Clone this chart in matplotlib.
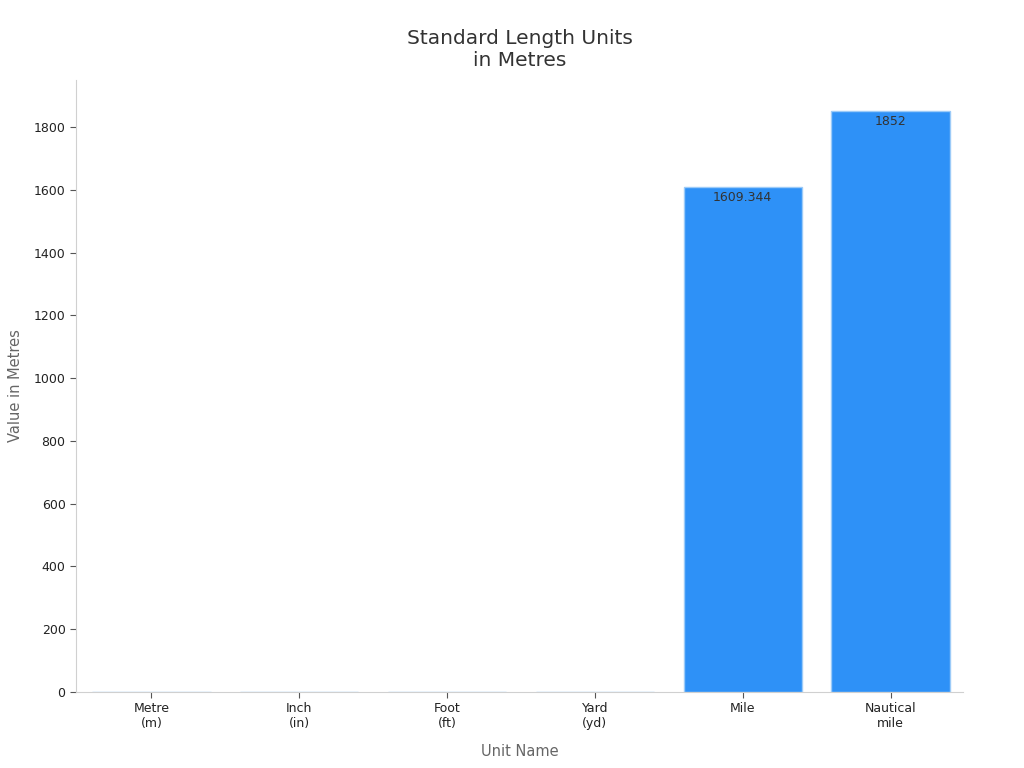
import matplotlib
matplotlib.use("Agg")
import matplotlib.pyplot as plt

# Data
units = ["Metre\n(m)", "Inch\n(in)", "Foot\n(ft)", "Yard\n(yd)", "Mile", "Nautical\nmile"]
metres = [1, 0.0254, 0.3048, 0.9144, 1609.344, 1852]
labels = ["", "", "", "", "1609.344", "1852"]

fig = plt.figure(figsize=(10.24, 7.68), dpi=100)
ax = fig.add_axes([0.0742, 0.099, 0.8662, 0.797])

bars = ax.bar(range(len(units)), metres, width=0.8, color="#2E91F7",
              edgecolor="#9CCBF8", linewidth=1)

for b, txt in zip(bars, labels):
    if txt:
        ax.annotate(txt, (b.get_x() + b.get_width() / 2, b.get_height()),
                    xytext=(0, -3), textcoords="offset points",
                    ha="center", va="top", fontsize=9, color="#333333")

ax.set_xlim(-0.51, 5.49)
ax.set_ylim(0, 1950)
ax.set_yticks(range(0, 1801, 200))
ax.set_xticks(range(len(units)))
ax.set_xticklabels(units, fontsize=9, color="#222222")
ax.tick_params(axis="y", labelsize=9, labelcolor="#222222", color="#555555", length=4)
ax.tick_params(axis="x", color="#555555", length=4)

for s in ["top", "right"]:
    ax.spines[s].set_visible(False)
for s in ["left", "bottom"]:
    ax.spines[s].set_color("#d0d0d0")

ax.set_xlabel("Unit Name", fontsize=10.5, color="#666666", labelpad=10)
ax.set_ylabel("Value in Metres", fontsize=10.5, color="#666666", labelpad=8)
ax.set_title("Standard Length Units\nin Metres", fontsize=14.5, color="#333333", pad=10)

fig.savefig("out.png", dpi=100)
